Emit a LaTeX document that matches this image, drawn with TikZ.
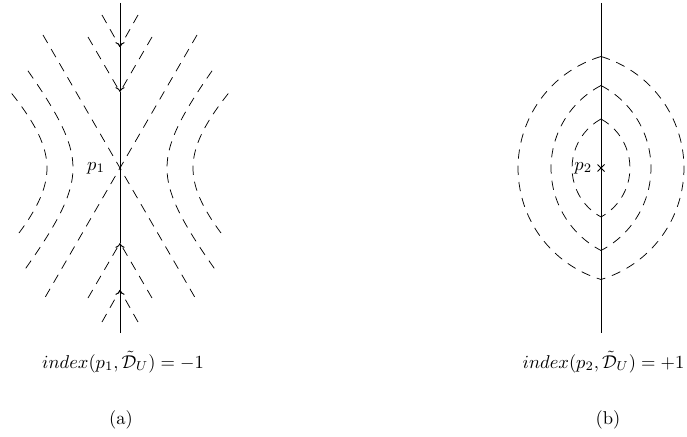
\documentclass[tikz,border=0pt]{standalone}
\usepackage{amsmath,amssymb}
\usetikzlibrary{arrows.meta,positioning,calc}
\tikzset{
  axis/.style={line width=0.5pt, draw=black},
  flow/.style={line width=0.4pt, dash pattern=on 5pt off 3.8pt},
  into/.style={axis, -{To[length=2.6pt,width=5pt]}},
  lab/.style={inner sep=1pt},
}

\begin{document}
\begin{tikzpicture}[x=0.54pt,y=0.54pt]
  \useasboundingbox (0,0) rectangle (687,436);
  % (a) saddle point
  \coordinate (p1) at (120,268);
  \coordinate (top1) at (120,433);
  \coordinate (bot1) at (120,103);
  \coordinate (d1) at (120,389);
  \coordinate (d2) at (120,344);
  \coordinate (u1) at (120,146);
  \coordinate (u2) at (120,193);
  \draw[into] (top1) -- (d1);
  \draw[into] (d1) -- (d2);
  \draw[axis] (d2) -- (p1);
  \draw[into] (bot1) -- (u1);
  \draw[into] (u1) -- (u2);
  \draw[axis] (u2) -- (p1);
  \draw[flow] ($(p1)+(-77,133)$) -- ($(p1)+(77,-133)$);
  \draw[flow] ($(p1)+(77,133)$) -- ($(p1)+(-77,-133)$);
  \foreach \t/\dx/\dy in {d1/18/32, d2/32/55, u1/18/-32, u2/32/-55} {
    \draw[flow] ($(\t)+(-\dx,\dy)$) -- (\t);
    \draw[flow] ($(\t)+(\dx,\dy)$) -- (\t);
  }
  \begin{scope}[shift={(p1)}]
    \foreach \s in {1,-1} {
      \draw[flow] plot[smooth, samples=40, domain=-1.32:1.32] ({47*\s*cosh(\x)}, {57.7*sinh(\x)});
      \draw[flow] plot[smooth, samples=40, domain=-0.85:0.95] ({73*\s*cosh(\x)}, {68*sinh(\x)});
    }
  \end{scope}
  \node[lab, left=7pt of p1] (p1lab) {$p_1$};
  \node (inda) at (123,74) {$index(p_1,\tilde{\mathcal{D}}_U)=-1$};
  \node (capa) at (121,16) {(a)};

  % (b) centre
  \coordinate (p2) at (601,268);
  \coordinate (top2) at (601,433);
  \coordinate (bot2) at (601,103);
  \draw[axis] (top2) -- (bot2);
  \foreach \h/\d/\r/\a in {111.5/33.4/116.4/73.3, 82.5/43.1/93.1/62.4, 49/26.9/55.9/61.2} {
    \draw[flow] ($(p2)+(0,\h)$) arc[start angle=180-\a, end angle=180+\a, radius=\r];
    \draw[flow] ($(p2)+(0,\h)$) arc[start angle=\a, end angle=-\a, radius=\r];
  }
  \draw[axis] (p2) +(-3.5,-3.5) -- +(3.5,3.5) +(-3.5,3.5) -- +(3.5,-3.5);
  \node[lab, left=3.6pt of p2] (p2lab) {$p_2$};
  \node (indb) at (603.5,74) {$index(p_2,\tilde{\mathcal{D}}_U)=+1$};
  \node (capb) at (608,16) {(b)};
\end{tikzpicture}
\end{document}
